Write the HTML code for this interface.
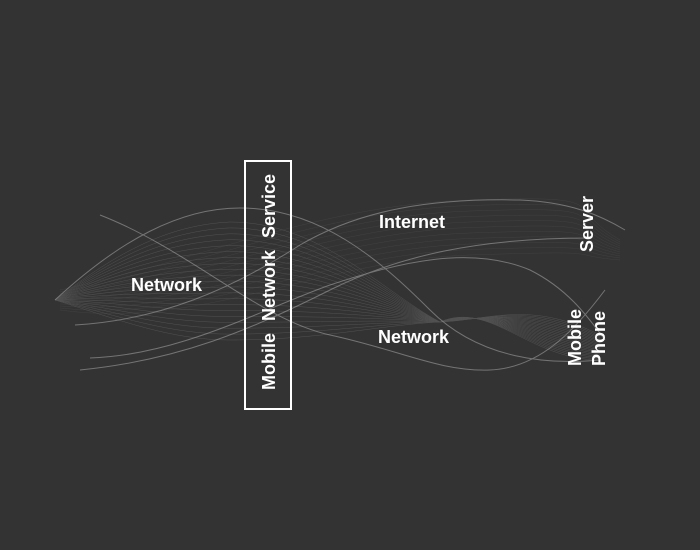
<!DOCTYPE html>
<html><head><meta charset="utf-8"><style>
html,body{margin:0;padding:0;background:#333333;}
svg{display:block}
text{font-family:"Liberation Sans","DejaVu Sans",sans-serif;font-weight:bold;fill:#fff;font-size:18px}
</style></head><body>
<svg id="s" width="700" height="550" viewBox="0 0 700 550">
<rect width="700" height="550" fill="#333333"/>
<g id="bundle" fill="none" stroke="#8a8a8a" stroke-width="0.5" opacity="0.35"></g>
<g fill="none" stroke="#a0a0a0" stroke-width="1" opacity="0.6">
<path d="M100,215 C190,250 260,320 330,335 C400,350 440,372 490,370 C540,368 575,330 605,290"/>
<path d="M55,300 C120,240 180,208 240,208 C320,208 380,260 430,310 C480,360 550,365 600,360"/>
<path d="M80,370 C180,360 250,330 330,290 C400,255 480,238 590,238"/>
<path d="M75,325 C160,320 230,290 300,245 C360,210 430,198 520,200 C570,202 600,215 625,230"/>
<path d="M90,358 C180,355 260,310 330,285 C400,262 470,245 530,270 C570,290 590,320 605,340"/>
</g>
<rect x="245" y="161" width="46" height="248" fill="none" stroke="#fff" stroke-width="2"/>
<text x="0" y="0" word-spacing="7" transform="translate(275,390) rotate(-90)">Mobile Network Service</text>
<text x="131" y="291">Network</text>
<text x="379" y="228">Internet</text>
<text x="378" y="343">Network</text>
<text transform="translate(593,252) rotate(-90)">Server</text>
<text transform="translate(581,366) rotate(-90)">Mobile</text>
<text transform="translate(605,366) rotate(-90)">Phone</text>
</svg>
<script>
var g=document.getElementById('bundle');
function P(a,b,t){return a.map(function(v,i){return v+(b[i]-v)*t;});}
var A=[55,300, 120,250, 170,225, 230,222, 320,222, 380,290, 440,322, 490,320, 530,300, 600,335];
var B=[55,300, 120,320, 170,340, 230,340, 320,340, 380,325, 440,322, 490,300, 530,360, 600,360];
for(var i=0;i<=20;i++){var t=i/20;var p=P(A,B,t);
var d="M"+p[0]+","+p[1]+" C"+p[2]+","+p[3]+" "+p[4]+","+p[5]+" "+p[6]+","+p[7]+" C"+p[8]+","+p[9]+" "+p[10]+","+p[11]+" "+p[12]+","+p[13]+" C"+p[14]+","+p[15]+" "+p[16]+","+p[17]+" "+p[18]+","+p[19];
var e=document.createElementNS("http://www.w3.org/2000/svg","path");e.setAttribute("d",d);g.appendChild(e);}
var C=[60,290, 200,260, 320,205, 470,200, 560,205, 620,240];
var D=[60,310, 200,330, 320,260, 470,255, 560,255, 620,260];
for(var i=0;i<=10;i++){var t=i/10;var p=P(C,D,t);
var d="M"+p[0]+","+p[1]+" C"+p[2]+","+p[3]+" "+p[4]+","+p[5]+" "+p[6]+","+p[7]+" S"+p[8]+","+p[9]+" "+p[10]+","+p[11];
var e=document.createElementNS("http://www.w3.org/2000/svg","path");e.setAttribute("d",d);e.setAttribute("opacity","0.45");g.appendChild(e);}
</script>
</body></html>
